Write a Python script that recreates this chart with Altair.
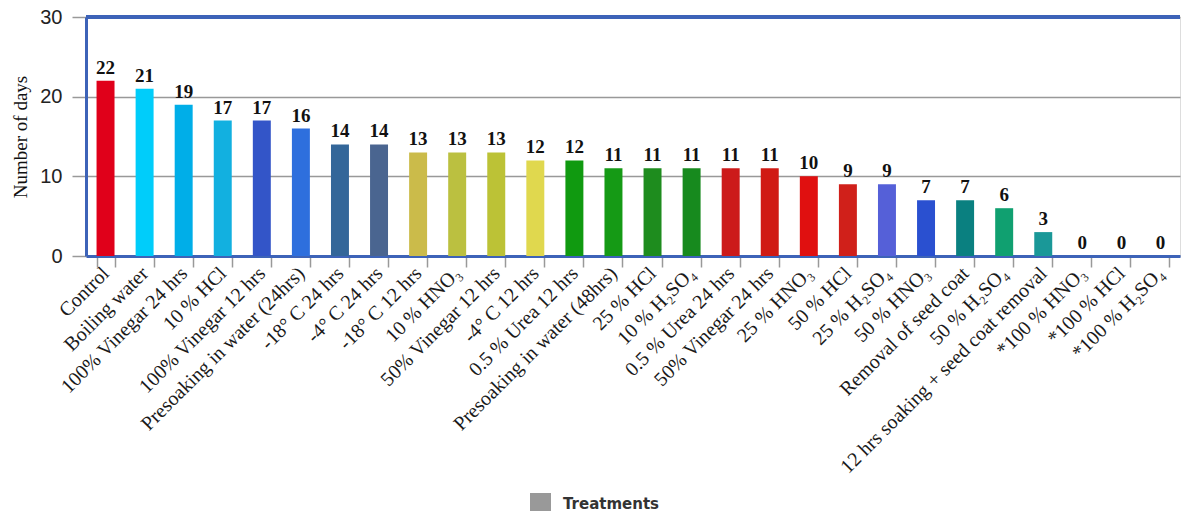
import altair as alt
import pandas as pd

treatments = [
    "Control", "Boiling water", "100% Vinegar 24 hrs", "10 % HCl", "100% Vinegar 12 hrs",
    "Presoaking in water (24hrs)", "-18° C 24 hrs", "-4° C 24 hrs", "-18° C 12 hrs",
    "10 % HNO₃", "50% Vinegar 12 hrs", "-4° C 12 hrs", "0.5 % Urea 12 hrs",
    "Presoaking in water (48hrs)", "25 % HCl", "10 % H₂SO₄", "0.5 % Urea 24 hrs",
    "50% Vinegar 24 hrs", "25 % HNO₃", "50 % HCl", "25 % H₂SO₄", "50 % HNO₃",
    "Removal of seed coat", "50 % H₂SO₄", "12 hrs soaking + seed coat removal",
    "*100 % HNO₃", "*100 % HCl", "*100 % H₂SO₄",
]
days = [22, 21, 19, 17, 17, 16, 14, 14, 13, 13, 13, 12, 12, 11, 11, 11, 11, 11,
        10, 9, 9, 7, 7, 6, 3, 0, 0, 0]
bar_colors = [
    "#e0001a", "#00cdfa", "#00aee8", "#12b0e0", "#3355c8", "#2e6fdd", "#336699",
    "#4a6590", "#cbbb4a", "#bbc040", "#bcc236", "#e0d84e", "#109a10", "#159a15",
    "#1e8c1e", "#178a1e", "#cc1a1a", "#d01a14", "#e01010", "#d0201a", "#5560d8",
    "#2a50d0", "#0a8080", "#10a070", "#1a9898", "#999999", "#999999", "#999999",
]
legend_name = ["Treatments"]

df = pd.DataFrame({"treatment": treatments, "days": days, "col": bar_colors})
leg = pd.DataFrame({"series": legend_name, "treatment": [treatments[0]], "days": [0]})

W, H = 1094, 239
BLUE = "#3d63b8"
SERIF = "Liberation Serif"

x_enc = alt.X(
    "treatment:N", sort=treatments, title=None,
    scale=alt.Scale(paddingInner=0.54, paddingOuter=0.27),
    axis=alt.Axis(labelAngle=-45, labelAlign="right", labelBaseline="middle",
                  labelFont=SERIF, labelFontSize=20, labelColor="#1a1a1a",
                  labelPadding=3, tickBand="extent", tickColor="#999",
                  tickSize=11, tickWidth=1.5, domainColor=BLUE, domainWidth=3,
                  labelOverlap=False, labelLimit=400, grid=False),
)
y_enc = alt.Y(
    "days:Q", title="Number of days",
    scale=alt.Scale(domain=[0, 30], nice=False),
    axis=alt.Axis(values=[0, 10, 20, 30], grid=True, gridColor="#999",
                  gridWidth=1.5, tickColor="#999", tickSize=14, tickWidth=1.5,
                  labelFont="Liberation Sans", labelFontSize=20, labelColor="#222",
                  labelPadding=10, domainColor=BLUE, domainWidth=3,
                  titleFont=SERIF, titleFontSize=19, titleFontWeight="normal",
                  titleColor="#111", titleX=-66, titleY=H / 2, titleAngle=-90,
                  titleAlign="center", titleBaseline="middle"),
)

bars = alt.Chart(df).mark_bar().encode(
    x=x_enc, y=y_enc, color=alt.Color("col:N", scale=None)
)
labels = alt.Chart(df).mark_text(
    font=SERIF, fontSize=19, fontWeight="bold", color="#111", dy=-7,
    baseline="alphabetic", align="center"
).encode(x=alt.X("treatment:N", sort=treatments), y="days:Q", text="days:Q")

top_border = alt.Chart(df).mark_rule(color=BLUE, strokeWidth=3).encode(
    y=alt.datum(30), x=alt.value(0), x2=alt.value(W)
)

legend_layer = alt.Chart(leg).mark_square(size=0, opacity=0).encode(
    x=alt.X("treatment:N", sort=treatments),
    y="days:Q",
    fill=alt.Fill("series:N", scale=alt.Scale(range=["#999999"]),
                  legend=alt.Legend(orient="none", legendX=444, legendY=476,
                                    title=None, symbolType="square",
                                    symbolSize=440, symbolOpacity=1,
                                    symbolStrokeWidth=0,
                                    labelFont="DejaVu Sans", labelFontSize=15,
                                    labelFontWeight="bold", labelColor="#333",
                                    labelOffset=12)),
)

chart = alt.layer(bars, labels, top_border, legend_layer).resolve_scale(
    color="independent", fill="independent"
).properties(
    width=W, height=H,
    autosize=alt.AutoSizeParams(type="none"),
    padding={"left": 86, "top": 17, "right": 2, "bottom": 255},
).configure_view(stroke="#dddddd", strokeWidth=1).configure(background="white")

chart.save("out.html", embed_options={"renderer": "svg", "actions": False})
